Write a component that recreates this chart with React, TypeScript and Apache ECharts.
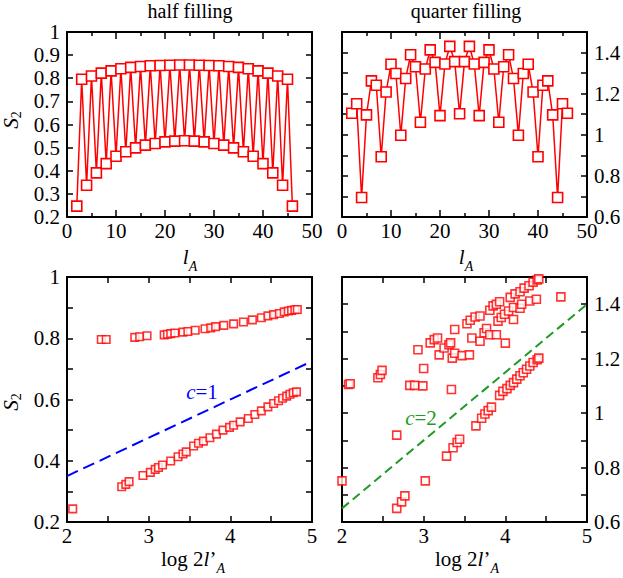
import React, { useEffect, useRef } from "react";
import * as echarts from "echarts";

// ---------- data ----------
const halfL = [2,3,4,5,6,7,8,9,10,11,12,13,14,15,16,17,18,19,20,21,22,23,24,25,26,27,28,29,30,31,32,33,34,35,36,37,38,39,40,41,42,43,44,45,46];
const halfS = [0.247,0.796,0.337,0.81,0.391,0.822,0.431,0.832,0.463,0.841,0.482,0.847,0.499,0.851,0.511,0.854,0.518,0.855,0.525,0.856,0.528,0.857,0.53,0.857,0.528,0.856,0.525,0.855,0.518,0.854,0.511,0.851,0.499,0.847,0.482,0.841,0.463,0.832,0.431,0.822,0.391,0.81,0.337,0.796,0.247];

const quarterL = [2,3,4,5,6,7,8,9,10,11,12,13,14,15,16,17,18,19,20,21,22,23,24,25,26,27,28,29,30,31,32,33,34,35,36,37,38,39,40,41,42,43,44,45,46];
const quarterS = [1.105,1.151,0.695,1.097,1.262,1.241,0.893,1.208,1.343,1.298,0.998,1.274,1.389,1.331,1.061,1.32,1.413,1.352,1.093,1.344,1.43,1.356,1.102,1.356,1.43,1.344,1.093,1.352,1.413,1.32,1.061,1.331,1.389,1.274,0.998,1.298,1.343,1.208,0.893,1.241,1.262,1.097,0.695,1.151,1.105];

const blUpperX = [2.42,2.48,2.83,2.89,2.98,3.19,3.23,3.27,3.32,3.42,3.48,3.57,3.69,3.76,3.82,3.92,4.04,4.16,4.27,4.38,4.46,4.53,4.6,4.66,4.71,4.75,4.79,4.82];
const blUpperY = [0.796,0.796,0.803,0.805,0.808,0.811,0.813,0.815,0.817,0.82,0.822,0.826,0.831,0.834,0.838,0.842,0.847,0.853,0.86,0.867,0.873,0.877,0.881,0.886,0.889,0.891,0.893,0.894];
const blLowerX = [2.07,2.67,2.72,2.76,2.93,3.02,3.08,3.12,3.17,3.27,3.36,3.42,3.46,3.55,3.61,3.67,3.75,3.83,3.91,3.99,4.04,4.12,4.22,4.3,4.38,4.46,4.53,4.59,4.64,4.69,4.73,4.77,4.81];
const blLowerY = [0.243,0.315,0.323,0.332,0.352,0.362,0.372,0.378,0.386,0.399,0.413,0.422,0.429,0.448,0.457,0.464,0.475,0.487,0.5,0.509,0.516,0.527,0.538,0.551,0.563,0.576,0.587,0.596,0.604,0.611,0.617,0.622,0.625];

const brX = [2.0,2.08,2.1,2.44,2.47,2.49,2.67,2.67,2.73,2.77,2.83,2.89,2.99,2.93,3.0,3.02,3.08,3.13,3.17,3.19,3.28,3.36,3.41,3.44,3.25,3.31,3.33,3.34,3.35,3.38,3.47,3.56,3.38,3.53,3.57,3.63,3.69,3.59,3.69,3.74,3.77,3.81,3.64,3.71,3.75,3.79,3.83,3.81,3.85,3.89,3.93,3.91,3.95,3.99,4.04,4.1,3.89,4.0,3.93,3.97,4.02,4.06,4.1,4.14,4.18,4.22,4.26,4.3,4.34,4.39,4.41,4.06,4.12,4.18,4.23,4.29,4.34,4.39,4.41,4.1,4.18,4.2,4.3,4.38,4.68];
const brY = [0.751,1.105,1.108,1.13,1.142,1.157,0.919,0.65,0.674,0.696,1.102,1.102,1.1,1.233,1.164,0.751,1.258,1.27,1.276,1.214,0.842,0.873,0.892,0.904,1.239,1.251,1.258,1.087,1.202,1.22,1.211,1.214,1.307,1.328,1.341,1.353,1.357,1.276,1.264,1.295,1.311,1.288,0.953,0.981,0.997,1.009,1.022,1.378,1.394,1.4,1.409,1.338,1.351,1.363,1.375,1.388,1.288,1.257,1.065,1.08,1.09,1.102,1.112,1.125,1.137,1.148,1.161,1.173,1.186,1.196,1.202,1.425,1.438,1.446,1.459,1.468,1.481,1.489,1.493,1.344,1.385,1.4,1.412,1.418,1.427];

const guideX = [2, 5];
const c1Y = [0.35, 0.725];
const c2Y = [0.65, 1.4];

// ---------- styling ----------
const FONT = "Liberation Serif";
const RED = "#ff0000";
const BLUE = "#0000ff";
const GREEN = "#1f9a24";

const fmt1 = (v: number) => String(+v.toFixed(1));
const fmtEven = (v: number) => (Math.round(v * 10) % 2 === 0 ? String(+v.toFixed(1)) : "");
const fmtInt = (v: number) => (Math.abs(v - Math.round(v)) < 1e-6 ? String(Math.round(v)) : "");

function axis(kind: "x" | "y", grid: number, min: number, max: number, interval: number, position: string, showLabel: boolean, formatter: any, minor: boolean) {
  return {
    type: "value",
    gridIndex: grid,
    min,
    max,
    interval,
    position,
    axisLine: { show: true, onZero: false, lineStyle: { color: "#000", width: 2 } },
    axisTick: { show: true, inside: true, length: minor ? 7 : 6, lineStyle: { color: "#000", width: 1.5 } },
    minorTick: minor
      ? { show: true, splitNumber: 2, length: 4, lineStyle: { color: "#000", width: 1.5 } }
      : { show: false },
    splitLine: { show: false },
    minorSplitLine: { show: false },
    axisLabel: {
      show: showLabel,
      color: "#000",
      fontFamily: FONT,
      fontSize: 21,
      margin: kind === "x" ? 3 : 7,
      formatter,
      showMinLabel: true,
      showMaxLabel: true,
    },
  };
}

const rich = {
  n: { fontFamily: FONT, fontSize: 21, color: "#000", lineHeight: 22, verticalAlign: "top" },
  i: { fontFamily: FONT, fontSize: 21, fontStyle: "italic", color: "#000", lineHeight: 22, verticalAlign: "top" },
  s: { fontFamily: FONT, fontSize: 14, fontStyle: "italic", color: "#000", lineHeight: 16, verticalAlign: "top", padding: [13, 0, 0, 0] },
  s2: { fontFamily: FONT, fontSize: 14, color: "#000", lineHeight: 16, verticalAlign: "top", padding: [9, 0, 0, 0] },
};

function label(x: number, y: number, text: string, rotation = 0) {
  return {
    type: "text",
    x,
    y,
    rotation,
    style: { text, rich, align: "center", verticalAlign: "middle", fontFamily: FONT, fontSize: 21, fill: "#000" },
  };
}

function plainText(x: number, y: number, text: string, fill: string, fontSize: number, richStyle?: any) {
  return {
    type: "text",
    x,
    y,
    style: { text, align: "center", verticalAlign: "middle", fontFamily: FONT, fontSize, fill, rich: richStyle },
  };
}

export default function App() {
  const ref = useRef<HTMLDivElement>(null);
  useEffect(() => {
    if (!ref.current) return;
    const chart = echarts.init(ref.current, null, { renderer: "svg" });

    const grids = [
      { left: 67, top: 32, width: 245, height: 185 },
      { left: 342, top: 32, width: 245, height: 185 },
      { left: 67, top: 277, width: 245, height: 245 },
      { left: 342, top: 277, width: 245, height: 245 },
    ].map((g) => ({ ...g, containLabel: false, outerBoundsMode: "none", show: false }));

    const xAxis = [
      axis("x", 0, 0, 50, 10, "bottom", true, (v: number) => String(v), true),
      axis("x", 0, 0, 50, 10, "top", false, null, true),
      axis("x", 1, 0, 50, 10, "bottom", true, (v: number) => String(v), true),
      axis("x", 1, 0, 50, 10, "top", false, null, true),
      axis("x", 2, 2, 5, 0.5, "bottom", true, fmtInt, false),
      axis("x", 2, 2, 5, 0.5, "top", false, null, false),
      axis("x", 3, 2, 5, 0.5, "bottom", true, fmtInt, false),
      axis("x", 3, 2, 5, 0.5, "top", false, null, false),
    ];
    const yAxis = [
      axis("y", 0, 0.2, 1, 0.1, "left", true, fmt1, false),
      axis("y", 0, 0.2, 1, 0.1, "right", false, null, false),
      axis("y", 1, 0.6, 1.5, 0.1, "right", true, (v: number) => (v > 1.45 ? "" : fmtEven(v)), false),
      axis("y", 1, 0.6, 1.5, 0.1, "left", false, null, false),
      axis("y", 2, 0.2, 1, 0.1, "left", true, fmtEven, false),
      axis("y", 2, 0.2, 1, 0.1, "right", false, null, false),
      axis("y", 3, 0.6, 1.5, 0.1, "right", true, (v: number) => (v > 1.45 ? "" : fmtEven(v)), false),
      axis("y", 3, 0.6, 1.5, 0.1, "left", false, null, false),
    ];

    const openSquare = (size: number) => ({
      symbol: "rect",
      symbolSize: size,
      itemStyle: { color: "#fff", borderColor: RED, borderWidth: 1.6 },
    });

    const series: any[] = [
      {
        type: "line",
        xAxisIndex: 0,
        yAxisIndex: 0,
        data: halfL.map((l, i) => [l, halfS[i]]),
        lineStyle: { color: RED, width: 1.5 },
        ...openSquare(10),
        z: 3,
      },
      {
        type: "line",
        xAxisIndex: 2,
        yAxisIndex: 2,
        data: quarterL.map((l, i) => [l, quarterS[i]]),
        lineStyle: { color: RED, width: 1.5 },
        ...openSquare(10),
        z: 3,
      },
      {
        type: "line",
        xAxisIndex: 4,
        yAxisIndex: 4,
        data: guideX.map((x, i) => [x, c1Y[i]]),
        symbol: "none",
        lineStyle: { color: BLUE, width: 2, type: [12, 6] },
        z: 2,
      },
      {
        type: "scatter",
        xAxisIndex: 4,
        yAxisIndex: 4,
        data: blUpperX.map((x, i) => [x, blUpperY[i]]),
        ...openSquare(7.5),
        z: 3,
      },
      {
        type: "scatter",
        xAxisIndex: 4,
        yAxisIndex: 4,
        data: blLowerX.map((x, i) => [x, blLowerY[i]]),
        ...openSquare(7.5),
        z: 3,
      },
      {
        type: "line",
        xAxisIndex: 6,
        yAxisIndex: 6,
        data: guideX.map((x, i) => [x, c2Y[i]]),
        symbol: "none",
        lineStyle: { color: GREEN, width: 2, type: [9, 5] },
        z: 2,
      },
      {
        type: "scatter",
        xAxisIndex: 6,
        yAxisIndex: 6,
        data: brX.map((x, i) => [x, brY[i]]),
        ...openSquare(8),
        z: 3,
      },
    ].map((s) => ({ ...s, animation: false, silent: true, emphasis: { disabled: true } }));

    const graphic = [
      plainText(190, 11, "half filling", "#000", 20),
      plainText(466, 11, "quarter filling", "#000", 20),
      label(11, 120, "{i|S}{s2|2}", Math.PI / 2),
      label(11, 402, "{i|S}{s2|2}", Math.PI / 2),
      label(190, 257, "{i|l}{s|A}"),
      label(466, 257, "{i|l}{s|A}"),
      label(193, 559, "{n|log 2}{i|l}{n|’}{s|A}"),
      label(467, 559, "{n|log 2}{i|l}{n|’}{s|A}"),
      plainText(202, 392, "{c|c}{t|=1}", BLUE, 20, {
        c: { fontFamily: FONT, fontSize: 21, fontStyle: "italic", color: BLUE },
        t: { fontFamily: FONT, fontSize: 21, color: BLUE },
      }),
      plainText(421, 418, "{c|c}{t|=2}", GREEN, 20, {
        c: { fontFamily: FONT, fontSize: 21, fontStyle: "italic", color: GREEN },
        t: { fontFamily: FONT, fontSize: 21, color: GREEN },
      }),
    ];

    chart.setOption({
      animation: false,
      backgroundColor: "#fff",
      grid: grids,
      xAxis,
      yAxis,
      series,
      graphic,
    });
    return () => chart.dispose();
  }, []);
  return <div ref={ref} style={{ position: "fixed", left: 0, top: 0, width: 623, height: 578 }} />;
}
